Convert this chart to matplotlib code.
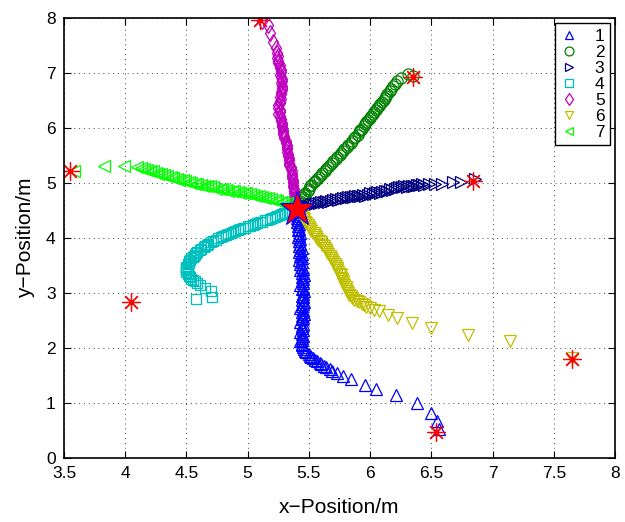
import matplotlib
matplotlib.use("Agg")
import matplotlib.pyplot as plt

plt.rcParams["font.family"] = ["Liberation Sans", "DejaVu Sans"]

# trajectories as (x, y) points, from start (red asterisk) towards the common target
path1 = [(6.56, 0.52), (6.55, 0.68), (6.50, 0.82), (6.38, 1.00), (6.21, 1.15), (6.05, 1.25),
         (5.96, 1.33), (5.84, 1.43), (5.78, 1.50), (5.73, 1.54), (5.69, 1.59), (5.67, 1.62),
         (5.64, 1.65), (5.62, 1.68), (5.60, 1.71), (5.59, 1.73), (5.57, 1.76), (5.55, 1.78),
         (5.53, 1.81), (5.52, 1.84), (5.51, 1.86), (5.50, 1.89), (5.48, 1.92), (5.47, 1.95),
         (5.46, 1.98), (5.45, 2.01), (5.44, 2.05), (5.44, 2.08), (5.43, 2.12), (5.44, 2.15),
         (5.44, 2.19), (5.45, 2.22), (5.44, 2.26), (5.43, 2.30), (5.45, 2.33), (5.44, 2.36),
         (5.44, 2.40), (5.45, 2.44), (5.43, 2.48), (5.44, 2.52), (5.45, 2.55), (5.44, 2.58),
         (5.46, 2.62), (5.44, 2.66), (5.45, 2.70), (5.43, 2.73), (5.44, 2.77), (5.45, 2.80),
         (5.46, 2.84), (5.44, 2.88), (5.45, 2.92), (5.44, 2.95), (5.45, 2.99), (5.46, 3.03),
         (5.44, 3.07), (5.45, 3.10), (5.43, 3.14), (5.45, 3.18), (5.44, 3.22), (5.45, 3.26),
         (5.44, 3.29), (5.46, 3.33), (5.44, 3.37), (5.43, 3.41), (5.45, 3.44), (5.44, 3.48),
         (5.43, 3.52), (5.44, 3.56), (5.42, 3.60), (5.44, 3.63), (5.43, 3.67), (5.44, 3.71),
         (5.42, 3.75), (5.43, 3.79), (5.44, 3.82), (5.42, 3.86), (5.43, 3.90), (5.42, 3.94),
         (5.43, 3.98), (5.41, 4.02), (5.42, 4.06), (5.43, 4.10), (5.41, 4.14), (5.42, 4.17),
         (5.41, 4.21), (5.42, 4.25), (5.40, 4.29), (5.41, 4.33), (5.40, 4.37), (5.41, 4.40),
         (5.40, 4.44), (5.40, 4.47)]

path2 = [(6.35, 6.95), (6.31, 6.98), (6.25, 6.91), (6.22, 6.85), (6.20, 6.80), (6.19, 6.76),
         (6.17, 6.71), (6.16, 6.67), (6.14, 6.62), (6.13, 6.58), (6.12, 6.55), (6.11, 6.51),
         (6.10, 6.48), (6.08, 6.44), (6.07, 6.40), (6.06, 6.36), (6.05, 6.33), (6.03, 6.29),
         (6.02, 6.26), (6.01, 6.22), (6.00, 6.18), (5.98, 6.14), (5.97, 6.11), (5.96, 6.07),
         (5.95, 6.03), (5.93, 5.99), (5.92, 5.96), (5.91, 5.92), (5.90, 5.88), (5.88, 5.84),
         (5.87, 5.81), (5.85, 5.77), (5.84, 5.73), (5.82, 5.69), (5.81, 5.66), (5.79, 5.62),
         (5.78, 5.58), (5.76, 5.55), (5.75, 5.51), (5.73, 5.47), (5.72, 5.44), (5.70, 5.40),
         (5.69, 5.37), (5.67, 5.33), (5.66, 5.30), (5.64, 5.26), (5.63, 5.22), (5.61, 5.19),
         (5.60, 5.15), (5.58, 5.11), (5.57, 5.08), (5.55, 5.04), (5.54, 5.01), (5.52, 4.97),
         (5.51, 4.94), (5.50, 4.90), (5.49, 4.86), (5.47, 4.82), (5.46, 4.79), (5.45, 4.75),
         (5.44, 4.71), (5.43, 4.68), (5.42, 4.64), (5.41, 4.60), (5.41, 4.57)]

path3 = [(6.86, 5.08), (6.74, 5.02), (6.68, 5.01), (6.59, 4.99), (6.53, 4.99), (6.48, 4.98),
         (6.44, 4.97), (6.42, 4.98), (6.40, 4.96), (6.38, 4.97), (6.36, 4.95), (6.34, 4.94),
         (6.32, 4.95), (6.30, 4.93), (6.28, 4.94), (6.26, 4.92), (6.24, 4.93), (6.22, 4.91),
         (6.20, 4.90), (6.18, 4.88), (6.16, 4.89), (6.14, 4.86), (6.12, 4.85), (6.10, 4.84),
         (6.08, 4.82), (6.06, 4.84), (6.04, 4.82), (6.02, 4.80), (6.00, 4.81), (5.98, 4.79),
         (5.96, 4.77), (5.94, 4.79), (5.92, 4.77), (5.90, 4.76), (5.88, 4.77), (5.86, 4.74),
         (5.84, 4.75), (5.82, 4.74), (5.80, 4.72), (5.78, 4.73), (5.76, 4.71), (5.74, 4.70),
         (5.72, 4.71), (5.70, 4.69), (5.68, 4.68), (5.66, 4.66), (5.64, 4.67), (5.62, 4.65),
         (5.60, 4.65), (5.58, 4.63), (5.56, 4.63), (5.54, 4.61), (5.52, 4.61), (5.50, 4.59),
         (5.48, 4.59), (5.46, 4.57), (5.44, 4.56), (5.42, 4.55)]

path4 = [(4.58, 2.89), (4.71, 2.93), (4.70, 3.04), (4.65, 3.09), (4.61, 3.15), (4.59, 3.18),
         (4.57, 3.21), (4.55, 3.24), (4.54, 3.26), (4.53, 3.29), (4.52, 3.31), (4.51, 3.34),
         (4.51, 3.36), (4.50, 3.39), (4.50, 3.41), (4.50, 3.43), (4.50, 3.45), (4.50, 3.48),
         (4.51, 3.50), (4.51, 3.53), (4.52, 3.55), (4.52, 3.58), (4.53, 3.60), (4.54, 3.63),
         (4.55, 3.65), (4.56, 3.68), (4.57, 3.70), (4.58, 3.73), (4.59, 3.75), (4.61, 3.78),
         (4.62, 3.80), (4.64, 3.83), (4.65, 3.85), (4.67, 3.88), (4.68, 3.90), (4.70, 3.93),
         (4.72, 3.95), (4.74, 3.97), (4.76, 4.00), (4.78, 4.02), (4.80, 4.04), (4.82, 4.06),
         (4.84, 4.07), (4.86, 4.09), (4.88, 4.11), (4.90, 4.13), (4.92, 4.14), (4.94, 4.16),
         (4.96, 4.18), (4.98, 4.19), (5.00, 4.21), (5.02, 4.22), (5.04, 4.24), (5.06, 4.25),
         (5.08, 4.27), (5.10, 4.29), (5.12, 4.30), (5.14, 4.32), (5.16, 4.33), (5.18, 4.35),
         (5.20, 4.37), (5.22, 4.38), (5.24, 4.40), (5.26, 4.41), (5.28, 4.43), (5.30, 4.45),
         (5.32, 4.46), (5.34, 4.48), (5.36, 4.49)]

path5 = [(5.12, 7.95), (5.17, 7.87), (5.18, 7.72), (5.21, 7.57), (5.23, 7.45), (5.24, 7.36),
         (5.25, 7.31), (5.24, 7.27), (5.25, 7.22), (5.25, 7.18), (5.26, 7.14), (5.26, 7.10),
         (5.27, 7.06), (5.27, 7.01), (5.26, 6.97), (5.27, 6.93), (5.28, 6.89), (5.28, 6.85),
         (5.27, 6.81), (5.28, 6.77), (5.28, 6.73), (5.28, 6.69), (5.27, 6.65), (5.27, 6.61),
         (5.26, 6.57), (5.27, 6.53), (5.26, 6.49), (5.26, 6.45), (5.25, 6.41), (5.25, 6.37),
         (5.26, 6.33), (5.26, 6.29), (5.25, 6.25), (5.26, 6.21), (5.27, 6.17), (5.27, 6.13),
         (5.28, 6.09), (5.28, 6.05), (5.28, 6.01), (5.29, 5.97), (5.29, 5.93), (5.29, 5.89),
         (5.30, 5.85), (5.30, 5.81), (5.31, 5.77), (5.31, 5.73), (5.32, 5.69), (5.32, 5.65),
         (5.32, 5.61), (5.32, 5.57), (5.33, 5.53), (5.33, 5.49), (5.34, 5.45), (5.34, 5.41),
         (5.34, 5.37), (5.34, 5.33), (5.35, 5.29), (5.35, 5.25), (5.36, 5.21), (5.36, 5.17),
         (5.36, 5.13), (5.36, 5.09), (5.37, 5.05), (5.37, 5.01), (5.37, 4.97), (5.37, 4.93),
         (5.38, 4.89), (5.38, 4.85), (5.38, 4.81), (5.38, 4.77), (5.39, 4.73), (5.39, 4.69),
         (5.39, 4.65), (5.39, 4.61)]

path6 = [(7.65, 1.81), (7.14, 2.12), (6.80, 2.24), (6.50, 2.36), (6.34, 2.46), (6.22, 2.54),
         (6.15, 2.60), (6.07, 2.67), (6.03, 2.70), (6.00, 2.72), (5.97, 2.75), (5.95, 2.78),
         (5.93, 2.80), (5.91, 2.83), (5.89, 2.86), (5.87, 2.88), (5.85, 2.91), (5.84, 2.94),
         (5.83, 2.97), (5.82, 3.00), (5.81, 3.04), (5.80, 3.07), (5.80, 3.11), (5.79, 3.14),
         (5.78, 3.18), (5.78, 3.21), (5.77, 3.25), (5.76, 3.28), (5.76, 3.32), (5.75, 3.35),
         (5.74, 3.39), (5.73, 3.42), (5.73, 3.46), (5.72, 3.50), (5.71, 3.53), (5.70, 3.57),
         (5.69, 3.60), (5.68, 3.64), (5.67, 3.67), (5.66, 3.71), (5.65, 3.74), (5.64, 3.78),
         (5.63, 3.81), (5.62, 3.85), (5.61, 3.88), (5.60, 3.92), (5.58, 3.95), (5.57, 3.99),
         (5.56, 4.02), (5.55, 4.06), (5.54, 4.09), (5.52, 4.13), (5.51, 4.16), (5.50, 4.20),
         (5.49, 4.23), (5.48, 4.27), (5.47, 4.30), (5.46, 4.34), (5.45, 4.37), (5.44, 4.41),
         (5.43, 4.44), (5.42, 4.47)]

path7 = [(3.58, 5.22), (3.83, 5.31), (3.99, 5.31), (4.10, 5.29), (4.13, 5.27), (4.15, 5.25),
         (4.18, 5.24), (4.20, 5.22), (4.23, 5.21), (4.25, 5.19), (4.27, 5.17), (4.29, 5.16),
         (4.32, 5.14), (4.34, 5.12), (4.37, 5.11), (4.39, 5.10), (4.42, 5.08), (4.44, 5.06),
         (4.47, 5.05), (4.49, 5.04), (4.52, 5.02), (4.54, 5.00), (4.57, 4.99), (4.59, 4.98),
         (4.62, 4.97), (4.64, 4.95), (4.67, 4.95), (4.69, 4.94), (4.72, 4.92), (4.74, 4.90),
         (4.77, 4.90), (4.79, 4.89), (4.82, 4.88), (4.84, 4.86), (4.87, 4.86), (4.89, 4.85),
         (4.92, 4.84), (4.94, 4.82), (4.97, 4.82), (4.99, 4.81), (5.02, 4.80), (5.04, 4.78),
         (5.07, 4.77), (5.09, 4.76), (5.12, 4.75), (5.14, 4.73), (5.17, 4.72), (5.19, 4.71),
         (5.22, 4.69), (5.24, 4.68), (5.27, 4.66), (5.29, 4.65), (5.32, 4.63), (5.34, 4.62),
         (5.36, 4.60), (5.38, 4.58)]

start_x = [6.54, 6.35, 6.84, 4.05, 5.10, 7.65, 3.55]
start_y = [0.48, 6.93, 5.04, 2.83, 7.96, 1.80, 5.22]
target_x = [5.40]
target_y = [4.52]

labels = ["1", "2", "3", "4", "5", "6", "7"]
paths = [path1, path2, path3, path4, path5, path6, path7]
markers = ["^", "o", ">", "s", "d", "v", "<"]
colors = ["#0000FF", "#008000", "#000080", "#00BFBF", "#BF00BF", "#BFBF00", "#00FF00"]
sizes = [8, 8, 8, 6.5, 8, 8, 8]

fig = plt.figure(figsize=(6.25, 5.22), dpi=100)
ax = fig.add_axes([0.1024, 0.1226, 0.8816, 0.8429])

for pts, m, c, ms, lab in zip(paths, markers, colors, sizes, labels):
    xs, ys = zip(*pts)
    ax.plot(xs, ys, ls="none", marker=m, ms=ms, mfc="none", mec=c, mew=0.9, label=lab)

ax.plot(start_x, start_y, ls="none", marker=(8, 2, 0), ms=13, color="red", mew=0.9)
ax.plot(target_x, target_y, ls="none", marker="*", ms=26, mfc="red", mec="blue", mew=0.8)

ax.set_xlim(3.5, 8)
ax.set_ylim(0, 8)
ax.set_xticks([3.5, 4, 4.5, 5, 5.5, 6, 6.5, 7, 7.5, 8])
ax.set_xticklabels(["3.5", "4", "4.5", "5", "5.5", "6", "6.5", "7", "7.5", "8"])
ax.set_yticks(range(0, 9))
ax.grid(True, ls=(0, (1, 4)), color="#444444", lw=0.7)
ax.tick_params(direction="in", top=True, right=True, length=5, labelsize=12.5, pad=6)
for sp in ax.spines.values():
    sp.set_linewidth(1.2)
ax.set_xlabel("x\u2212Position/m", fontsize=15, labelpad=12)
ax.set_ylabel("y\u2212Position/m", fontsize=15, labelpad=8)

leg = ax.legend(loc="upper right", fontsize=12.5, frameon=True, fancybox=False,
                edgecolor="black", framealpha=1, borderaxespad=0.3, handlelength=1.0,
                handletextpad=1.0, labelspacing=0.05, borderpad=0.3, markerscale=0.8)
leg.get_frame().set_linewidth(1.0)

fig.savefig("out.png", dpi=100)
